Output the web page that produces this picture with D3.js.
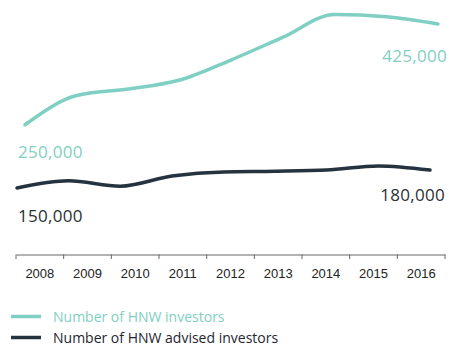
<!DOCTYPE html>
<html><head><meta charset="utf-8">
<script src="https://cdn.jsdelivr.net/npm/d3@7"></script>
<style>body{margin:0;background:#fff}svg{display:block}</style>
</head><body>
<script>
const years = ["2008","2009","2010","2011","2012","2013","2014","2015","2016"];
const hnwInvestors = [256000, 305000, 316000, 331000, 365000, 403000, 441000, 437000, 425000];
const hnwAdvised = [150000, 162000, 153000, 170000, 177000, 178000, 180000, 187000, 180000];
const seriesNames = ["Number of HNW investors", "Number of HNW advised investors"];
const endLabels = ["250,000", "425,000", "150,000", "180,000"];

const W = 474, H = 348;
const teal = "#7fcfc2", dark = "#253341";
const svg = d3.select("body").append("svg").attr("width", W).attr("height", H);

const xBand = d3.scaleBand().domain(years).range([16, 445]);
const xTeal = d3.scalePoint().domain(years).range([25, 438]);
const xDark = d3.scalePoint().domain(years).range([17, 430]);
const y = d3.scaleLinear().domain([150000, 425000]).range([188, 24]);

// axis
const axis = d3.axisBottom(xBand).tickSize(0).tickPadding(0);
const gx = svg.append("g").attr("transform", "translate(0,254.5)").call(axis);
gx.select(".domain").attr("stroke", "#666").attr("stroke-width", 1);
gx.selectAll(".tick text").attr("y", 23).attr("dy", 0)
  .attr("font-family", "'Liberation Sans Narrow', 'Liberation Sans', Arial, sans-serif")
  .attr("font-size", 13).attr("fill", "#222");
const edges = years.map(d => xBand(d)).concat([xBand.range()[1]]);
svg.append("g").selectAll("line").data(edges).join("line")
  .attr("x1", d => d).attr("x2", d => d).attr("y1", 254.5).attr("y2", 259)
  .attr("stroke", "#666").attr("stroke-width", 1);

// lines
const lineT = d3.line().x((d, i) => xTeal(years[i])).y(d => y(d)).curve(d3.curveMonotoneX);
const lineD = d3.line().x((d, i) => xDark(years[i])).y(d => y(d)).curve(d3.curveMonotoneX);
svg.append("path").attr("d", lineT(hnwInvestors)).attr("fill", "none")
  .attr("stroke", teal).attr("stroke-width", 3.5).attr("stroke-linecap", "round");
svg.append("path").attr("d", lineD(hnwAdvised)).attr("fill", "none")
  .attr("stroke", dark).attr("stroke-width", 3.5).attr("stroke-linecap", "round");

// value labels
const lf = "'Open Sans', 'Noto Sans', sans-serif";
const labels = [
  {t: endLabels[0], x: 18, y: 158, a: "start", c: teal},
  {t: endLabels[1], x: 447, y: 62, a: "end", c: teal},
  {t: endLabels[2], x: 18, y: 221.5, a: "start", c: "#2a2f36"},
  {t: endLabels[3], x: 445, y: 200.5, a: "end", c: "#2a2f36"}
];
svg.append("g").selectAll("text").data(labels).join("text")
  .attr("x", d => d.x).attr("y", d => d.y).attr("text-anchor", d => d.a)
  .attr("fill", d => d.c).attr("font-family", lf).attr("font-size", 17)
  .attr("letter-spacing", 0.3).text(d => d.t);

// legend
const leg = [
  {name: seriesNames[0], c: teal, y: 316.5},
  {name: seriesNames[1], c: dark, y: 337.5}
];
const lg = svg.append("g");
lg.selectAll("line").data(leg).join("line")
  .attr("x1", 11).attr("x2", 41).attr("y1", d => d.y).attr("y2", d => d.y)
  .attr("stroke", d => d.c).attr("stroke-width", 3.5);
lg.selectAll("text").data(leg).join("text")
  .attr("x", 53).attr("y", d => d.y + 5)
  .attr("fill", d => d.c === teal ? teal : "#1f2630")
  .attr("font-family", lf).attr("font-size", 14)
  .text(d => d.name);
</script>
</body></html>
